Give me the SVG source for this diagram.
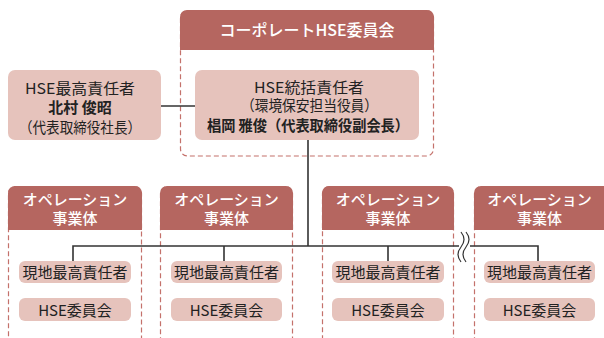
<svg xmlns="http://www.w3.org/2000/svg" width="604" height="338" viewBox="0 0 604 338">
<style>
.hdr{fill:#b56660}
.dash{fill:none;stroke:#c4716b;stroke-width:1.2;stroke-dasharray:5 3}
.pill{fill:#e6c3bc}
.ln{fill:none;stroke:#333;stroke-width:1.6}
.t{font-family:"Noto Sans CJK JP","Noto Sans",sans-serif;font-size:15px;font-weight:400;fill:#222;text-anchor:middle}
.b{font-weight:bold}
.w{fill:#fff;font-size:15px;font-weight:500}
</style>
<rect width="604" height="338" fill="#fff"/>
<g id="corporate">
<rect class="dash" x="180.5" y="10.5" width="253" height="145.5" rx="7"/>
<path class="hdr" d="M180,50 V17 a7,7 0 0 1 7,-7 H427 a7,7 0 0 1 7,7 V50 Z"/>
<text class="t w" x="307" y="35.5" style="font-size:16px">コーポレートHSE委員会</text>
</g>
<g id="hse-top">
<rect class="pill" x="8" y="70" width="153" height="70" rx="7"/>
<text class="t" x="80" y="94" textLength="110" lengthAdjust="spacingAndGlyphs">HSE最高責任者</text>
<text class="t b" x="80" y="113">北村 俊昭</text>
<text class="t" x="80" y="133" textLength="122" lengthAdjust="spacingAndGlyphs">（代表取締役社長）</text>
</g>
<g id="hse-general">
<rect class="pill" x="195" y="70" width="224" height="70" rx="7"/>
<text class="t" x="309" y="92.5" textLength="110" lengthAdjust="spacingAndGlyphs">HSE統括責任者</text>
<text class="t" x="309.5" y="111" textLength="137" lengthAdjust="spacingAndGlyphs">（環境保安担当役員）</text>
<text class="t b" x="308" y="131" textLength="202" lengthAdjust="spacingAndGlyphs">椙岡 雅俊（代表取締役副会長）</text>
</g>
<g id="op1">
<rect class="dash" x="8.5" y="186.5" width="133" height="170" rx="7"/>
<path class="hdr" d="M8,230 V193 a7,7 0 0 1 7,-7 H135 a7,7 0 0 1 7,7 V230 Z"/>
<text class="t w" x="75" y="204.5">オペレーション</text>
<text class="t w" x="75" y="223.5">事業体</text>
<rect class="pill" x="19" y="261" width="112" height="22" rx="6"/>
<text class="t" x="75" y="278">現地最高責任者</text>
<rect class="pill" x="19" y="298" width="112" height="23" rx="6"/>
<text class="t" x="75" y="315.5">HSE委員会</text>
</g>
<g id="op2">
<rect class="dash" x="160.5" y="186.5" width="132" height="170" rx="7"/>
<path class="hdr" d="M160,230 V193 a7,7 0 0 1 7,-7 H286 a7,7 0 0 1 7,7 V230 Z"/>
<text class="t w" x="226.5" y="204.5">オペレーション</text>
<text class="t w" x="226.5" y="223.5">事業体</text>
<rect class="pill" x="171" y="261" width="111" height="22" rx="6"/>
<text class="t" x="226.5" y="278">現地最高責任者</text>
<rect class="pill" x="171" y="298" width="111" height="23" rx="6"/>
<text class="t" x="226.5" y="315.5">HSE委員会</text>
</g>
<g id="op3">
<rect class="dash" x="322.5" y="186.5" width="131" height="170" rx="7"/>
<path class="hdr" d="M322,230 V193 a7,7 0 0 1 7,-7 H447 a7,7 0 0 1 7,7 V230 Z"/>
<text class="t w" x="388" y="204.5">オペレーション</text>
<text class="t w" x="388" y="223.5">事業体</text>
<rect class="pill" x="332" y="261" width="112" height="22" rx="6"/>
<text class="t" x="388" y="278">現地最高責任者</text>
<rect class="pill" x="332" y="298" width="112" height="23" rx="6"/>
<text class="t" x="388" y="315.5">HSE委員会</text>
</g>
<g id="op4">
<rect class="dash" x="474.5" y="186.5" width="140" height="170" rx="7"/>
<path class="hdr" d="M474,230 V193 a7,7 0 0 1 7,-7 H614 V230 Z"/>
<text class="t w" x="539.5" y="204.5">オペレーション</text>
<text class="t w" x="539.5" y="223.5">事業体</text>
<rect class="pill" x="484" y="261" width="111" height="22" rx="6"/>
<text class="t" x="539.5" y="278">現地最高責任者</text>
<rect class="pill" x="484" y="298" width="111" height="23" rx="6"/>
<text class="t" x="539.5" y="315.5">HSE委員会</text>
</g>
<g id="connectors">
<path class="ln" d="M161,106 H195"/>
<path class="ln" d="M308,140 V246"/>
<path class="ln" d="M73,261 V246 H459"/>
<path class="ln" d="M470,246 H538 V261"/>
<path class="ln" d="M224,246 V261"/>
<path class="ln" d="M388,246 V261"/>
<path class="ln" style="stroke-width:1.2" d="M461,232 c4,5 4,10 0,15 c-4,5 -4,10 0,15"/>
<path class="ln" style="stroke-width:1.2" d="M466,232 c4,5 4,10 0,15 c-4,5 -4,10 0,15"/>
</g>
</svg>
